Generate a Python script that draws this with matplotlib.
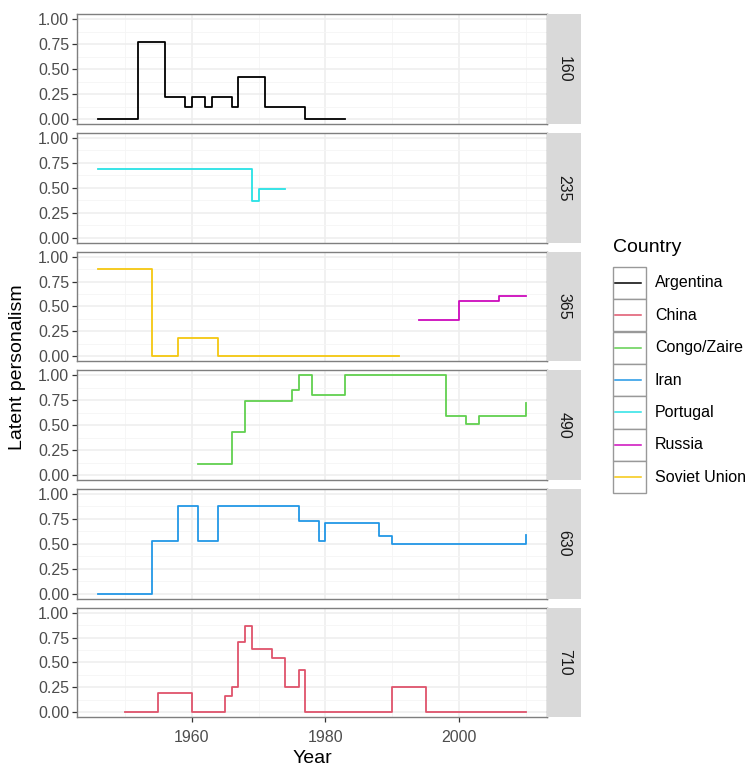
import numpy as np
import matplotlib.pyplot as plt
from matplotlib.patches import Rectangle

plt.rcParams['font.family'] = ['Liberation Sans', 'DejaVu Sans']

# Step change points (year, latent personalism) per country
argentina_years = [1946, 1952, 1956, 1959, 1960, 1962, 1963, 1966, 1967, 1971, 1977, 1983]
argentina_vals = [0.00, 0.77, 0.22, 0.12, 0.22, 0.12, 0.22, 0.12, 0.42, 0.12, 0.00, 0.00]

portugal_years = [1946, 1969, 1970, 1974]
portugal_vals = [0.69, 0.37, 0.49, 0.49]

soviet_years = [1946, 1954, 1958, 1964, 1991]
soviet_vals = [0.88, 0.00, 0.18, 0.00, 0.00]

russia_years = [1994, 2000, 2006, 2010]
russia_vals = [0.36, 0.55, 0.60, 0.60]

congo_years = [1961, 1966, 1968, 1975, 1976, 1978, 1983, 1998, 2001, 2003, 2010]
congo_vals = [0.11, 0.43, 0.74, 0.85, 1.00, 0.80, 1.00, 0.59, 0.51, 0.59, 0.72]

iran_years = [1946, 1954, 1958, 1961, 1964, 1976, 1979, 1980, 1988, 1990, 2010]
iran_vals = [0.00, 0.53, 0.88, 0.53, 0.88, 0.73, 0.53, 0.71, 0.58, 0.50, 0.59]

china_years = [1950, 1955, 1960, 1965, 1966, 1967, 1968, 1969, 1972, 1974, 1976, 1977, 1990, 1995, 2010]
china_vals = [0.00, 0.19, 0.00, 0.16, 0.25, 0.71, 0.87, 0.64, 0.54, 0.25, 0.42, 0.00, 0.25, 0.00, 0.00]

countries = ['Argentina', 'China', 'Congo/Zaire', 'Iran', 'Portugal', 'Russia', 'Soviet Union']
colors = ['black', '#DF536B', '#61D04F', '#2297E6', '#28E2E5', '#CD0BBC', '#F5C710']
col = dict(zip(countries, colors))

series = {
    'Argentina': (argentina_years, argentina_vals),
    'Portugal': (portugal_years, portugal_vals),
    'Soviet Union': (soviet_years, soviet_vals),
    'Russia': (russia_years, russia_vals),
    'Congo/Zaire': (congo_years, congo_vals),
    'Iran': (iran_years, iran_vals),
    'China': (china_years, china_vals),
}

panel_ids = ['160', '235', '365', '490', '630', '710']
panel_members = [['Argentina'], ['Portugal'], ['Soviet Union', 'Russia'],
                 ['Congo/Zaire'], ['Iran'], ['China']]

W, H = 753, 766
fig = plt.figure(figsize=(W / 100, H / 100), dpi=100)

left, right = 76.7, 547.3
top, bottom = 14.3, 717.3
gap = 9.0
ph = (bottom - top - 5 * gap) / 6
strip_w = 33.7

border = '#7f7f7f'
tick_col = '#4D4D4D'

axes = []
for i, (pid, members) in enumerate(zip(panel_ids, panel_members)):
    y0 = top + i * (ph + gap)
    ax = fig.add_axes([left / W, 1 - (y0 + ph) / H, (right - left) / W, ph / H])
    axes.append(ax)
    for name in members:
        xs, ys = series[name]
        ax.step(xs, ys, where='post', color=col[name], lw=1.3)
    ax.set_xlim(1942.8, 2013.2)
    ax.set_ylim(-0.05, 1.05)
    ax.set_xticks([1960, 1980, 2000])
    ax.set_xticks([1950, 1970, 1990, 2010], minor=True)
    ax.set_yticks([0, 0.25, 0.5, 0.75, 1.0])
    ax.set_yticks([0.125, 0.375, 0.625, 0.875], minor=True)
    ax.set_yticklabels(['0.00', '0.25', '0.50', '0.75', '1.00'])
    ax.grid(which='major', color='#EEEEEE', lw=1.1)
    ax.grid(which='minor', color='#F5F5F5', lw=0.6)
    ax.set_axisbelow(True)
    for s in ax.spines.values():
        s.set_color(border)
        s.set_linewidth(1.0)
    ax.tick_params(which='major', length=3.5, width=0.9, color='#333333',
                   labelsize=11.5, labelcolor=tick_col, pad=2)
    ax.tick_params(axis='x', which='major', pad=6)
    ax.tick_params(which='minor', length=0)
    if i < 5:
        ax.tick_params(axis='x', which='both', bottom=False, labelbottom=False)

    # facet strip on the right side
    sx = fig.add_axes([right / W, 1 - (y0 + ph) / H, strip_w / W, ph / H])
    sx.set_facecolor('#D9D9D9')
    sx.set_xticks([])
    sx.set_yticks([])
    for s in sx.spines.values():
        s.set_visible(False)
    sx.text(0.5, 0.5, pid, rotation=-90, ha='center', va='center',
            fontsize=11.5, color='#1A1A1A', transform=sx.transAxes)

axes[-1].set_xlabel('Year', fontsize=14, labelpad=3)
fig.text(18 / W, 1 - 367 / H, 'Latent personalism', rotation=90,
         ha='center', va='center', fontsize=14)

# legend with boxed keys
lg = fig.add_axes([0, 0, 1, 1], facecolor='none')
lg.set_xlim(0, W)
lg.set_ylim(H, 0)
lg.axis('off')
lg.text(613, 247, 'Country', fontsize=14, ha='left', va='center')
kx, ky, kw, kh = 612.7, 266.7, 33.3, 32.4
for j, name in enumerate(countries):
    yk = ky + j * kh
    lg.add_patch(Rectangle((kx, yk), kw, kh, facecolor='white',
                           edgecolor='#999999', lw=1.0))
    lg.plot([kx + 2.7, kx + kw - 5.3], [yk + kh / 2, yk + kh / 2],
            color=col[name], lw=1.1)
    lg.text(655, yk + kh / 2, name, fontsize=11.5, ha='left', va='center')

fig.savefig('out.png', dpi=100)
